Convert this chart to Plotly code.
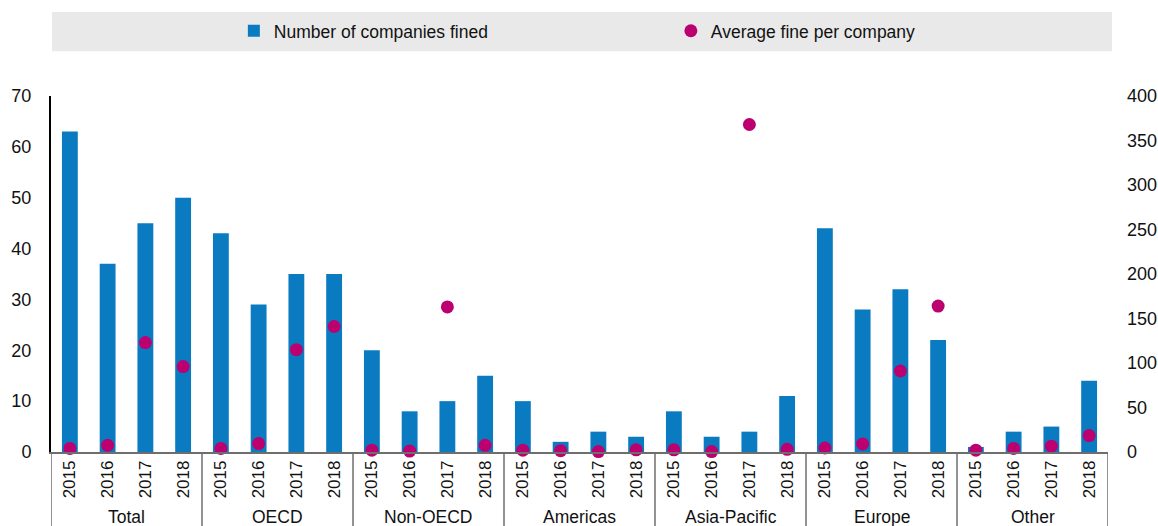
import plotly.graph_objects as go

regions = ["Total", "OECD", "Non-OECD", "Americas", "Asia-Pacific", "Europe", "Other"]
years = ["2015", "2016", "2017", "2018"]

companies_fined = [
    63, 37, 45, 50,   # Total
    43, 29, 35, 35,   # OECD
    20, 8, 10, 15,    # Non-OECD
    10, 2, 4, 3,      # Americas
    8, 3, 4, 11,      # Asia-Pacific
    44, 28, 32, 22,   # Europe
    1, 4, 5, 14,      # Other
]
average_fine = [
    4, 7.5, 123, 96,
    4, 9.5, 115, 141,
    2, 1, 163, 7.5,
    2, 1.5, 0.5, 2.5,
    2.5, 0.5, 368, 3,
    4.5, 9, 91, 164,
    2, 4, 6.5, 18.5,
]

# one category per (region, year) pair; the tick shows only the year
categories = [f"{r} {y}" for r in regions for y in years]
year_labels = [y for _ in regions for y in years]

FONT = "Liberation Sans, Arial, sans-serif"
BLUE = "#0a7bc1"
MAGENTA = "#bc006f"
AXIS_GREY = "#6e6e6e"
n_years = len(years)

fig = go.Figure()
fig.add_trace(go.Bar(
    x=categories, y=companies_fined,
    name="Number of companies fined",
    marker=dict(color=BLUE, line=dict(width=0)),
    width=0.42,
))
fig.add_trace(go.Scatter(
    x=categories, y=average_fine,
    name="Average fine per company",
    mode="markers", yaxis="y2", cliponaxis=False,
    marker=dict(color=MAGENTA, size=13, line=dict(width=0)),
))

# region names under the year ticks, and dividers between the regions
annotations = []
shapes = [dict(
    type="rect", xref="paper", yref="paper",
    x0=0.001, x1=1.0038, y0=1.126, y1=1.236,
    fillcolor="#e9e9e9", line=dict(width=0), layer="below",
)]
for i, region in enumerate(regions):
    centre = i * n_years + (n_years - 1) / 2
    annotations.append(dict(
        x=centre, xref="x", y=-0.149, yref="paper", yanchor="top",
        text=region, showarrow=False, font=dict(size=17.5),
    ))
for k in range(len(regions) + 1):
    edge = k * n_years - 0.5
    shapes.append(dict(
        type="line", xref="x", yref="paper", x0=edge, x1=edge,
        y0=0, y1=-0.21, line=dict(color=AXIS_GREY, width=1.5),
    ))

fig.update_layout(
    width=1158, height=526,
    margin=dict(l=51, r=50, t=96, b=74, autoexpand=False),
    paper_bgcolor="white", plot_bgcolor="white",
    font=dict(family=FONT, size=17.5, color="#111111"),
    showlegend=True,
    legend=dict(
        orientation="h", x=0.173, xanchor="left", y=1.183, yanchor="middle",
        bgcolor="rgba(0,0,0,0)", font=dict(size=17.5), entrywidth=392,
        entrywidthmode="pixels",
    ),
    xaxis=dict(
        type="category", categoryorder="array", categoryarray=categories,
        tickvals=categories, ticktext=year_labels,
        range=[-0.5, len(categories) - 0.5], showgrid=False, ticks="",
        showline=True, linecolor=AXIS_GREY, linewidth=1.5, tickangle=-90,
        tickfont=dict(size=17),
    ),
    yaxis=dict(
        range=[0, 70], dtick=10, showgrid=False, zeroline=False,
        showline=True, linecolor="black", linewidth=2, ticks="",
        ticklabelstandoff=14, tickfont=dict(size=18),
    ),
    yaxis2=dict(
        range=[0, 400], dtick=50, overlaying="y", side="right",
        showgrid=False, zeroline=False, showline=False, ticks="",
        ticklabelstandoff=18, tickfont=dict(size=18),
    ),
    shapes=shapes,
    annotations=annotations,
)

fig.write_html("out.html")
